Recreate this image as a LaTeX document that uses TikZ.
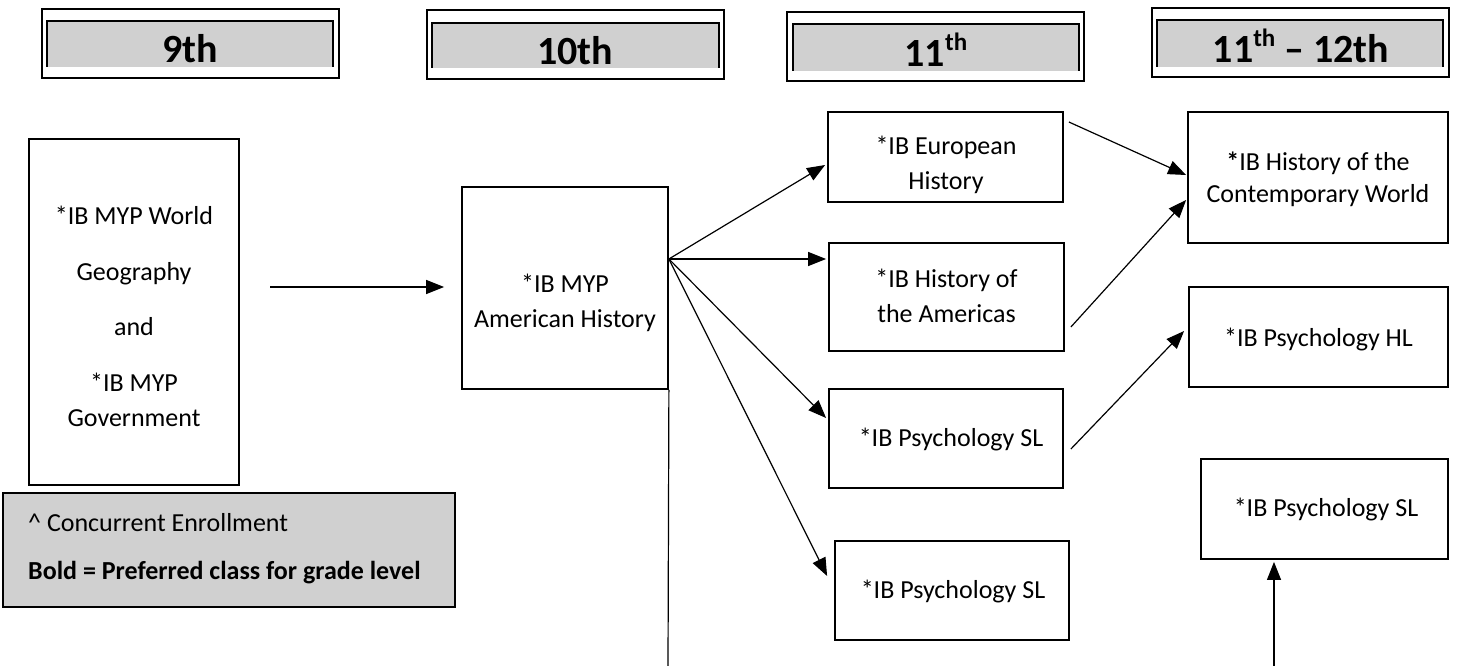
\documentclass[tikz,border=0pt]{standalone}
\usepackage{fontspec}
\setmainfont{Carlito}
\usetikzlibrary{arrows.meta,calc}
\definecolor{hgray}{RGB}{208,208,208}
\begin{document}
\begin{tikzpicture}[x=1pt,y=-1pt,
  box/.style={draw, line width=1.8pt, inner sep=0pt},
  txt/.style={font=\fontsize{26}{35}\selectfont, align=center, inner sep=0pt},
  arr/.style={-{Triangle[length=18pt,width=14pt]}, line width=1.2pt},
  ln/.style={line width=1.2pt},
  hdr/.style={draw, line width=2pt, minimum width=297pt, minimum height=69pt, inner sep=0pt},
  htxt/.style={font=\fontsize{40}{40}\selectfont\bfseries, inner sep=0pt, anchor=base},
  inner/.style={line width=2.4pt}]
\useasboundingbox (0,0) rectangle (1457,666);
\newcommand{\supth}{\raisebox{0.42em}{\fontsize{25}{25}\selectfont th}}

% headers
\node[hdr] (h9) at (190.5,43.5) {};
\fill[hgray] (47,21) rectangle (333,67);
\draw[inner] (47,67) -- (47,21) -- (333,21) -- (333,67);
\node[htxt] (t9) at (190,63) {9th};

\node[hdr] (h10) at (575.5,44.5) {};
\fill[hgray] (432,23) rectangle (719,68);
\draw[inner] (432,68) -- (432,23) -- (719,23) -- (719,68);
\node[htxt] (t10) at (575,65) {10th};

\node[hdr] (h11) at (935.5,47) {};
\fill[hgray] (793,24) rectangle (1079,71);
\draw[inner] (793,71) -- (793,24) -- (1079,24) -- (1079,71);
\node[htxt] (t11) at (936,67) {11\supth};

\node[hdr] (h12) at (1300.5,42.5) {};
\fill[hgray] (1157,20) rectangle (1443,67);
\draw[inner] (1157,67) -- (1157,20) -- (1443,20) -- (1443,67);
\node[htxt] (t12) at (1301,63) {11\supth{} – 12th};

% course boxes
\node[box, minimum width=210pt, minimum height=346pt] (A) at (134,312) {};
\node[txt] (At) at (134,316) {*IB MYP World\\[21pt]Geography\\[20pt]and\\[21pt]*IB MYP\\Government};

\node[box, minimum width=206pt, minimum height=202pt] (B) at (565,288) {};
\node[txt] (Bt) at (565,303) {*IB MYP\\American History};

\node[box, minimum width=235pt, minimum height=90pt] (C1) at (945.5,157) {};
\node[txt] (C1t) at (946,165) {*IB European\\History};

\node[box, minimum width=235pt, minimum height=108pt] (C2) at (946.5,297) {};
\node[txt] (C2t) at (946.5,296) {*IB History of\\the Americas};

\node[box, minimum width=234pt, minimum height=99pt] (C3) at (946,438.5) {};
\node[txt] (C3t) at (951,440) {*IB Psychology SL};

\node[box, minimum width=234pt, minimum height=99pt] (C4) at (952,590.5) {};
\node[txt] (C4t) at (953,592) {*IB Psychology SL};

\node[box, minimum width=260pt, minimum height=131pt] (D1) at (1318,177.5) {};
\node[txt, font=\fontsize{26}{32}\selectfont] (D1t) at (1318,179) {\textbf{*}IB History of the\\Contemporary World};

\node[box, minimum width=259pt, minimum height=100pt] (D2) at (1318.5,337) {};
\node[txt] (D2t) at (1318.5,340) {*IB Psychology HL};

\node[box, minimum width=247pt, minimum height=100pt] (D3) at (1324.5,509) {};
\node[txt] (D3t) at (1326,510) {*IB Psychology SL};

% legend
\node[box, fill=hgray, minimum width=452pt, minimum height=114pt] (L) at (229,550) {};
\node[txt, anchor=west] (L1) at (28,523) {\textasciicircum{} Concurrent Enrollment};
\node[txt, anchor=west] (L2) at (28,573) {\textbf{Bold = Preferred class for grade level}};

% connectors
\coordinate (ab) at (270,287);
\draw[arr, shorten >=17pt] (ab) -- (ab -| B.west);

\coordinate (bo) at ([yshift=29pt]B.east);
\draw[arr] (bo) -- ([xshift=-2pt,yshift=-8pt]C1.west);
\draw[arr, shorten >=2pt] (bo) -- (bo -| C2.west);
\draw[arr] (bo) -- ([xshift=-2pt,yshift=20.5pt]C3.west);
\draw[arr] (bo) -- ([xshift=-7pt,yshift=14.5pt]C4.west);

\coordinate (vb) at (668,666);
\draw[ln] (B.south east) -- (vb);

\draw[arr] ([xshift=5pt,yshift=35pt]C1.east) -- ([xshift=-1pt,yshift=2.5pt]D1.west);
\draw[arr] ([xshift=6pt,yshift=-30pt]C2.east) -- ([xshift=-1pt,yshift=-22.5pt]D1.west);
\draw[arr] ([xshift=7pt,yshift=-10.5pt]C3.east) -- ([xshift=-4pt,yshift=6pt]D2.west);

\coordinate (d3s) at (1274,666);
\draw[arr, shorten >=2pt] (d3s) -- (d3s |- D3.south);
\end{tikzpicture}
\end{document}
